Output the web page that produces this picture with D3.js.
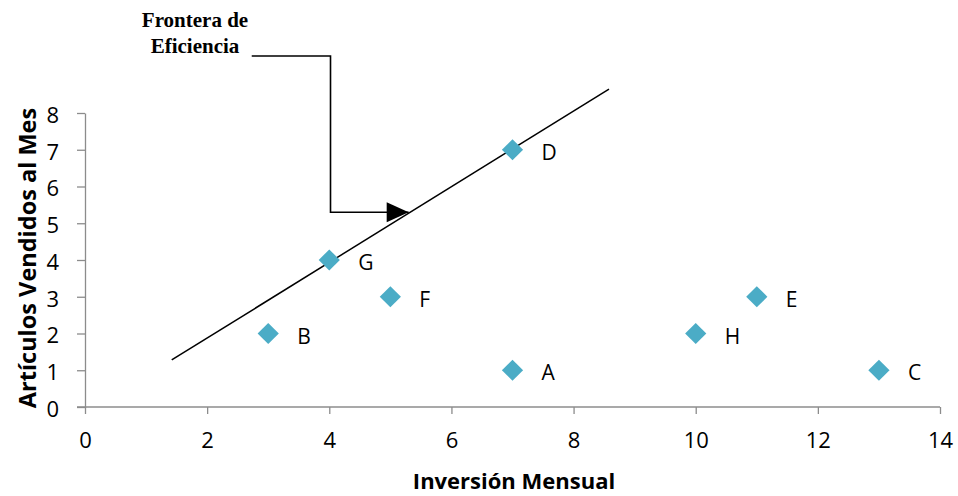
<!DOCTYPE html>
<html>
<head>
<meta charset="utf-8">
<script src="https://cdn.jsdelivr.net/npm/d3@7"></script>
<style>
  body { margin: 0; background: #fff; }
  text { font-family: "Open Sans", Lato, sans-serif; }
</style>
</head>
<body>
<div id="graphHolder"></div>
<script>
var graphWidth = 958;
var graphHeight = 496;

// data
var names = ["A", "B", "C", "D", "E", "F", "G", "H"];
var inversion = [7, 3, 13, 7, 11, 5, 4, 10];
var vendidos = [1, 2, 1, 7, 3, 3, 4, 2];
var frontierX = [1.42, 8.58];
var frontierY = [1.28, 8.65];
var xTicks = [0, 2, 4, 6, 8, 10, 12, 14];
var yTicks = [0, 1, 2, 3, 4, 5, 6, 7, 8];
// callout path in data units: start, corner, corner, arrow tip
var calloutX = [2.73, 4.02, 4.02, 5.3];
var calloutY = [9.55, 9.55, 5.3, 5.3];

var svg = d3.select("#graphHolder")
        .append("svg")
        .attr("width", graphWidth)
        .attr("height", graphHeight);

var x = d3.scaleLinear().domain([0, 14]).range([85, 940]);
var y = d3.scaleLinear().domain([0, 8]).range([407, 113]);

var axisColor = "#8c8c8c";

// x axis
var gx = svg.append("g")
        .attr("transform", "translate(0,407)")
        .call(d3.axisBottom(x).tickValues(xTicks).tickSize(7).tickSizeOuter(0).tickPadding(18));
gx.select(".domain").attr("stroke", axisColor).attr("stroke-width", 1.3)
        .attr("d", "M" + (x(0) - 8) + ",0H" + x(14));
gx.selectAll(".tick line").attr("stroke", axisColor).attr("stroke-width", 1.3);
gx.selectAll(".tick text").attr("fill", "#000").style("font-size", "22px");

// y axis
var gy = svg.append("g")
        .attr("transform", "translate(85,0)")
        .call(d3.axisLeft(y).tickValues(yTicks).tickSize(8).tickSizeOuter(0).tickPadding(18));
gy.select(".domain").attr("stroke", axisColor).attr("stroke-width", 1.3);
gy.selectAll(".tick line").attr("stroke", axisColor).attr("stroke-width", 1.3);
gy.selectAll(".tick text").attr("fill", "#000").attr("dy", "0.42em").style("font-size", "22px");

// axis titles
svg.append("text")
        .attr("x", 514)
        .attr("y", 489)
        .attr("text-anchor", "middle")
        .style("font-size", "22px")
        .style("font-weight", "bold")
        .text("Inversión Mensual");

svg.append("text")
        .attr("transform", "translate(36,258) rotate(-90)")
        .attr("text-anchor", "middle")
        .style("font-size", "23.5px")
        .style("font-weight", "bold")
        .text("Artículos Vendidos al Mes");

// efficiency frontier
var line = d3.line()
        .x(function (d) { return x(d[0]); })
        .y(function (d) { return y(d[1]); });

svg.append("path")
        .datum(d3.zip(frontierX, frontierY))
        .attr("fill", "none")
        .attr("stroke", "#000")
        .attr("stroke-width", 1.5)
        .attr("d", line);

// points
var points = names.map(function (n, i) {
    return {name: n, x: inversion[i], y: vendidos[i]};
});

svg.selectAll(".pt")
        .data(points)
        .enter().append("path")
        .attr("class", "pt")
        .attr("transform", function (d) {
            return "translate(" + x(d.x) + "," + y(d.y) + ") rotate(45)";
        })
        .attr("d", d3.symbol().type(d3.symbolSquare).size(225))
        .attr("fill", "#4BACC6");

svg.selectAll(".lbl")
        .data(points)
        .enter().append("text")
        .attr("class", "lbl")
        .attr("x", function (d) { return x(d.x) + 29; })
        .attr("y", function (d) { return y(d.y) + 10; })
        .style("font-size", "21px")
        .text(function (d) { return d.name; });

// callout
svg.append("path")
        .datum(d3.zip(calloutX, calloutY))
        .attr("fill", "none")
        .attr("stroke", "#000")
        .attr("stroke-width", 1.6)
        .attr("d", line);

var tipX = x(calloutX[3]);
var tipY = y(calloutY[3]);
svg.append("path")
        .attr("d", "M" + tipX + "," + tipY + "L" + (tipX - 22) + "," + (tipY - 10) + "L" + (tipX - 22) + "," + (tipY + 10) + "Z")
        .attr("fill", "#000");

var note = svg.append("text")
        .attr("text-anchor", "middle")
        .style("font-family", "'Liberation Serif', 'Times New Roman', serif")
        .style("font-weight", "bold")
        .style("font-size", "21px");
note.append("tspan").attr("x", 195).attr("y", 27).text("Frontera de");
note.append("tspan").attr("x", 195).attr("y", 53).text("Eficiencia");
</script>
</body>
</html>
